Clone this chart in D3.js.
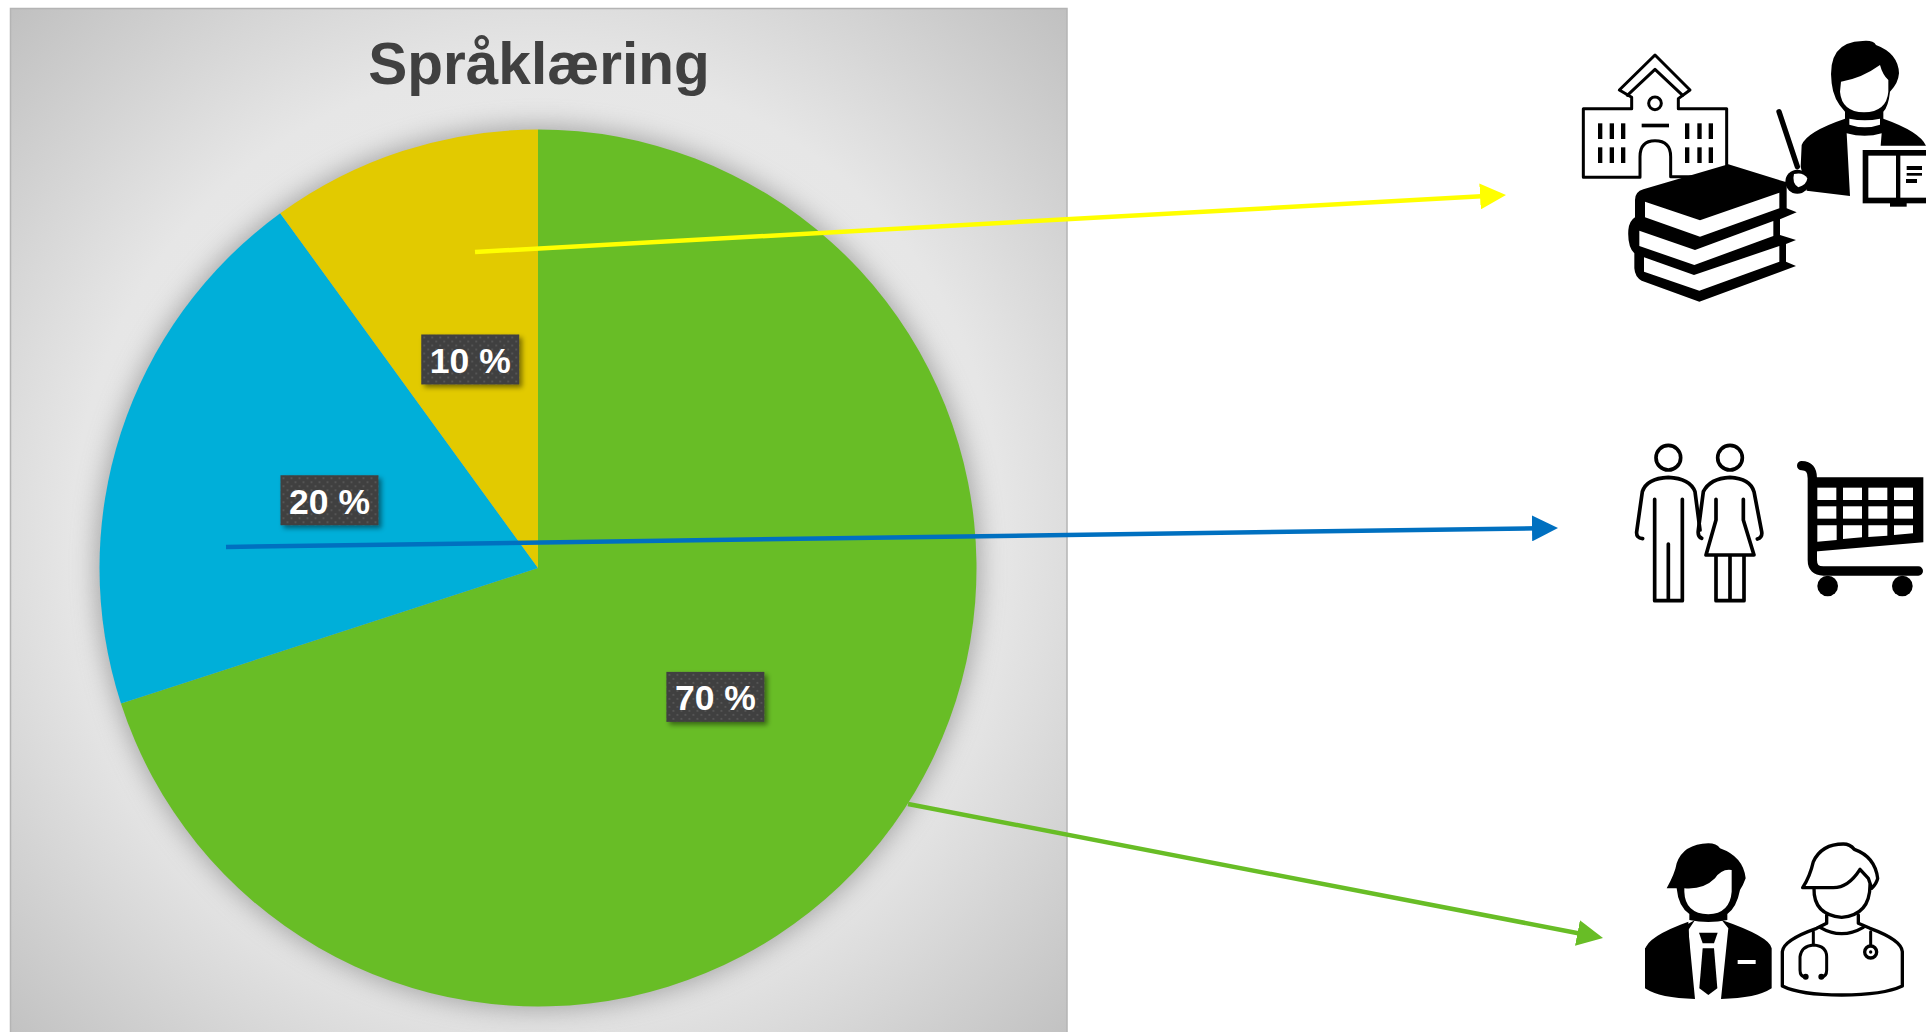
<!DOCTYPE html>
<html lang="no">
<head>
  <meta charset="UTF-8">
  <title>Språklæring</title>
  <script src="https://d3js.org/d3.v7.min.js"></script>
  <style>
    html, body { margin: 0; padding: 0; background: #fff; overflow: hidden; }
    svg { display: block; }
    text { font-family: "Liberation Sans", Arial, sans-serif; font-weight: bold; }
  </style>
</head>
<body>
  <svg id="chart" width="1926" height="1032"></svg>
  <script>
    // Chart data
    const categories = ["Arbeid", "Hverdag", "Skole"];
    const shares = [70, 20, 10];
    const sliceColors = ["#68BD26", "#00AFD9", "#E2CA00"];

    // Arrows from the slices to the icons, in page pixels
    const arrowStart = [[908, 804], [226, 547], [475, 252]];
    const arrowEnd = [[1603, 938], [1558, 528], [1506, 195]];
    const arrowColors = ["#68BD26", "#0070C0", "#FFFF00"];

    const svg = d3.select("#chart");
    const defs = svg.append("defs");

    const cx = 538, cy = 568, radius = 438.5;
    const headLength = 26, lineBack = 20;

    // Panel background
    const bg = defs.append("radialGradient").attr("id", "panelBg")
      .attr("gradientUnits", "userSpaceOnUse")
      .attr("cx", cx).attr("cy", 530).attr("r", 750);
    bg.append("stop").attr("offset", "0").attr("stop-color", "#eeeeee");
    bg.append("stop").attr("offset", "0.62").attr("stop-color", "#e6e6e6");
    bg.append("stop").attr("offset", "1").attr("stop-color", "#bfbfbf");

    const pieBlur = defs.append("filter").attr("id", "pieShadow")
      .attr("x", "-10%").attr("y", "-10%").attr("width", "120%").attr("height", "120%");
    pieBlur.append("feGaussianBlur").attr("stdDeviation", 13);

    const labelShadow = defs.append("filter").attr("id", "labelShadow")
      .attr("x", "-20%").attr("y", "-30%").attr("width", "150%").attr("height", "170%");
    labelShadow.append("feDropShadow")
      .attr("dx", 3).attr("dy", 3).attr("stdDeviation", 2.5)
      .attr("flood-color", "#000").attr("flood-opacity", 0.45);

    const dots = defs.append("pattern").attr("id", "labelDots")
      .attr("patternUnits", "userSpaceOnUse").attr("width", 8).attr("height", 8);
    dots.append("rect").attr("width", 8).attr("height", 8).attr("fill", "#3f3f3f");
    dots.append("rect").attr("x", 1).attr("y", 1).attr("width", 2).attr("height", 2).attr("fill", "#545454");
    dots.append("rect").attr("x", 5).attr("y", 5).attr("width", 2).attr("height", 2).attr("fill", "#545454");

    svg.append("rect")
      .attr("x", 10.5).attr("y", 8.5).attr("width", 1056.5).attr("height", 1030)
      .attr("fill", "url(#panelBg)").attr("stroke", "#b4b4b4").attr("stroke-width", 1.5);

    svg.append("text")
      .attr("x", cx + 1).attr("y", 84)
      .attr("text-anchor", "middle").attr("font-size", 58.5).attr("fill", "#404040")
      .text("Språklæring");

    // Pie, clockwise from twelve o'clock
    const pie = d3.pie().sort(null).value(d => d);
    const arc = d3.arc().innerRadius(0).outerRadius(radius);
    const slices = pie(shares);

    svg.append("circle")
      .attr("cx", cx).attr("cy", cy).attr("r", radius + 3)
      .attr("fill", "#777").attr("opacity", 0.6).attr("filter", "url(#pieShadow)");

    const pieG = svg.append("g").attr("transform", `translate(${cx},${cy})`);
    pieG.selectAll("path.slice")
      .data(slices)
      .join("path")
        .attr("class", "slice")
        .attr("d", arc)
        .attr("fill", (d, i) => sliceColors[i]);

    // Arrows: the line stops inside the head so it does not poke past the tip
    arrowColors.forEach((c, i) => {
      const m = defs.append("marker").attr("id", "head" + i)
        .attr("markerUnits", "userSpaceOnUse").attr("orient", "auto")
        .attr("markerWidth", headLength).attr("markerHeight", headLength)
        .attr("viewBox", `0 0 ${headLength} ${headLength}`)
        .attr("refX", headLength - lineBack).attr("refY", headLength / 2);
      m.append("path").attr("d", "M0,0L26,13L0,26Z").attr("fill", c);
    });
    const lineEnd = i => {
      const [x1, y1] = arrowStart[i], [x2, y2] = arrowEnd[i];
      const len = Math.hypot(x2 - x1, y2 - y1);
      return [x2 - (x2 - x1) / len * lineBack, y2 - (y2 - y1) / len * lineBack];
    };
    svg.selectAll("line.arrow")
      .data(arrowColors)
      .join("line")
        .attr("class", "arrow")
        .attr("x1", (d, i) => arrowStart[i][0]).attr("y1", (d, i) => arrowStart[i][1])
        .attr("x2", (d, i) => lineEnd(i)[0]).attr("y2", (d, i) => lineEnd(i)[1])
        .attr("stroke", d => d).attr("stroke-width", 4.5)
        .attr("marker-end", (d, i) => `url(#head${i})`);

    // Value labels
    const labels = pieG.selectAll("g.label")
      .data(slices)
      .join("g")
        .attr("class", "label")
        .attr("transform", d => `translate(${arc.centroid(d)})`);
    labels.append("rect")
      .attr("x", -49).attr("y", -25).attr("width", 98).attr("height", 50)
      .attr("fill", "url(#labelDots)").attr("filter", "url(#labelShadow)");
    labels.append("text")
      .attr("text-anchor", "middle").attr("y", 13.5)
      .attr("font-size", 35.5).attr("fill", "#fff")
      .text(d => d.data + " %");

    // Icons, drawn at 3x and scaled down
    const icon = (x, y) => svg.append("g").attr("transform", `translate(${x},${y}) scale(${1 / 3})`);
    const solid = (g, d, fill) => g.append("path").attr("d", d).attr("fill", fill || "#000");
    const outline = (g, d, w, fill) => g.append("path").attr("d", d)
      .attr("fill", fill || "none").attr("stroke", "#000").attr("stroke-width", w || 10)
      .attr("stroke-linejoin", "round").attr("stroke-linecap", "round");
    const box = (g, x, y, w, h, fill) => g.append("rect").attr("x", x).attr("y", y)
      .attr("width", w).attr("height", h).attr("fill", fill || "#000");
    const dot = (g, x, y, r, fill) => g.append("circle").attr("cx", x).attr("cy", y)
      .attr("r", r).attr("fill", fill || "#000");

    // School, books and teacher
    const schoolIcons = icon(1540, 20);
    outline(schoolIcons, "M130,472V266H275V232L238,210L345,105L450,210L415,236V266H560V470H392V410Q392,362 345,362Q300,362 300,410V472Z", 9, "#fff");
    outline(schoolIcons, "M262,226L345,148L428,226", 9);
    schoolIcons.append("circle").attr("cx", 345).attr("cy", 250).attr("r", 19)
      .attr("fill", "none").attr("stroke", "#000").attr("stroke-width", 9);
    box(schoolIcons, 305, 311, 82, 11);
    [174, 209, 243, 435, 472, 506].forEach(x => {
      box(schoolIcons, x, 310, 13, 47);
      box(schoolIcons, x, 382, 13, 47);
    });

    solid(schoolIcons, "M565,433L740,487V565L770,577L720,598V645L768,660L738,672V725L768,738L478,845L305,782Q285,772 283,745V700Q262,680 265,630Q268,602 285,592V540Q285,515 310,508Z");
    solid(schoolIcons, "M315,545L480,601L718,518V565L480,650L315,592Z", "#fff");
    solid(schoolIcons, "M298,632L465,690L700,603V648L463,735L298,678Z", "#fff");
    solid(schoolIcons, "M312,712L462,765L718,678V725L478,812L312,755Z", "#fff");

    outline(schoolIcons, "M717,275L772,440", 16);
    solid(schoolIcons, "M915,296Q800,335 785,375L782,440L800,512L930,528L920,340Q975,355 1025,340L1022,377H1158Q1140,335 1030,296Z");
    dot(schoolIcons, 772, 485, 36);
    solid(schoolIcons, "M762,462Q790,455 802,475Q800,495 775,502Q755,490 762,462Z", "#fff");
    solid(schoolIcons, "M968,63Q1000,60 1008,75Q1075,100 1077,160Q1075,190 1050,215Q1045,260 1030,275V300Q975,312 915,300V275Q880,240 875,190Q860,65 968,63Z");
    solid(schoolIcons, "M928,296Q975,306 1020,296L1020,314Q975,330 928,314Z", "#fff");
    solid(schoolIcons, "M903,185Q965,175 1020,135Q1028,165 1045,180V215Q1040,275 972,277Q905,275 900,215Z", "#fff");
    box(schoolIcons, 968, 390, 190, 160);
    box(schoolIcons, 985, 407, 83, 126, "#fff");
    box(schoolIcons, 1081, 407, 77, 126, "#fff");
    box(schoolIcons, 1100, 438, 46, 12);
    box(schoolIcons, 1100, 459, 46, 8);
    box(schoolIcons, 1098, 477, 33, 12);
    box(schoolIcons, 1050, 548, 50, 12);

    // Couple and shopping cart
    const shopIcons = icon(1580, 420);
    [265, 450].forEach(x => shopIcons.append("circle").attr("cx", x).attr("cy", 113).attr("r", 37)
      .attr("fill", "none").attr("stroke", "#000").attr("stroke-width", 11));
    outline(shopIcons, "M188,356Q168,354 170,335L187,215Q200,175 265,172Q330,175 345,215L360,330", 11);
    outline(shopIcons, "M224,238V542H307V238M265,372V542", 11);
    outline(shopIcons, "M365,355Q352,350 355,330L370,215Q390,175 450,172Q510,175 522,215L545,335Q548,352 532,357", 11);
    outline(shopIcons, "M408,238V300L378,405H522L490,300V238M408,405V542H492V405M450,405V542", 11);

    outline(shopIcons, "M665,137Q697,137 697,175V420Q697,453 730,453H1015", 28);
    dot(shopIcons, 743, 498, 31);
    dot(shopIcons, 967, 498, 31);
    solid(shopIcons, "M697,172H1030V367L697,395Z");
    [712, 789, 865, 942].forEach(x => {
      box(shopIcons, x, 203, 57, 37, "#fff");
      box(shopIcons, x, 259, 57, 37, "#fff");
    });
    solid(shopIcons, "M712,316H770V360L712,365Z", "#fff");
    solid(shopIcons, "M789,316H846V352L789,357Z", "#fff");
    solid(shopIcons, "M865,316H922V347L865,351Z", "#fff");
    solid(shopIcons, "M942,316H999V340L942,345Z", "#fff");

    // Business man and doctor
    const workIcons = icon(1600, 820);
    solid(workIcons, "M285,300L135,385V505Q180,535 285,537L265,330Z");
    solid(workIcons, "M265,305Q140,350 135,390V420H270Z");
    solid(workIcons, "M365,300L385,325L363,537Q470,535 515,505V385Q510,350 365,300Z");
    solid(workIcons, "M200,205Q225,160 230,130Q250,72 325,70Q350,70 360,85Q430,110 437,175Q430,195 420,210Q410,262 382,282V300Q325,312 268,300V282Q235,260 230,205Z");
    solid(workIcons, "M253,205Q310,210 345,175Q365,145 395,150V215Q390,280 325,283Q255,280 253,215Z", "#fff");
    solid(workIcons, "M297,338H353L342,370H308Z");
    solid(workIcons, "M308,385H342L352,505L325,525L298,505Z");
    box(workIcons, 413, 420, 54, 12, "#fff");

    outline(workIcons, "M608,203Q630,170 640,125Q665,72 730,72Q750,72 763,88Q825,110 833,175Q830,190 815,205L805,175L780,148Q745,203 700,203Z", 10);
    outline(workIcons, "M642,205Q640,285 725,292Q810,285 810,195", 10);
    outline(workIcons, "M680,285V310L650,325Q550,360 547,395V498Q600,525 725,525Q850,525 907,498V395Q905,360 810,325L775,310V285", 10);
    outline(workIcons, "M660,322Q725,360 790,322", 10);
    outline(workIcons, "M640,335V375M615,470Q600,470 600,450V410Q605,378 640,375Q680,378 680,410V450Q680,470 665,470M812,335V375", 9);
    dot(workIcons, 617, 470, 9);
    dot(workIcons, 664, 470, 9);
    workIcons.append("circle").attr("cx", 812).attr("cy", 396).attr("r", 18)
      .attr("fill", "none").attr("stroke", "#000").attr("stroke-width", 10);
    dot(workIcons, 812, 396, 5);
  </script>
</body>
</html>
